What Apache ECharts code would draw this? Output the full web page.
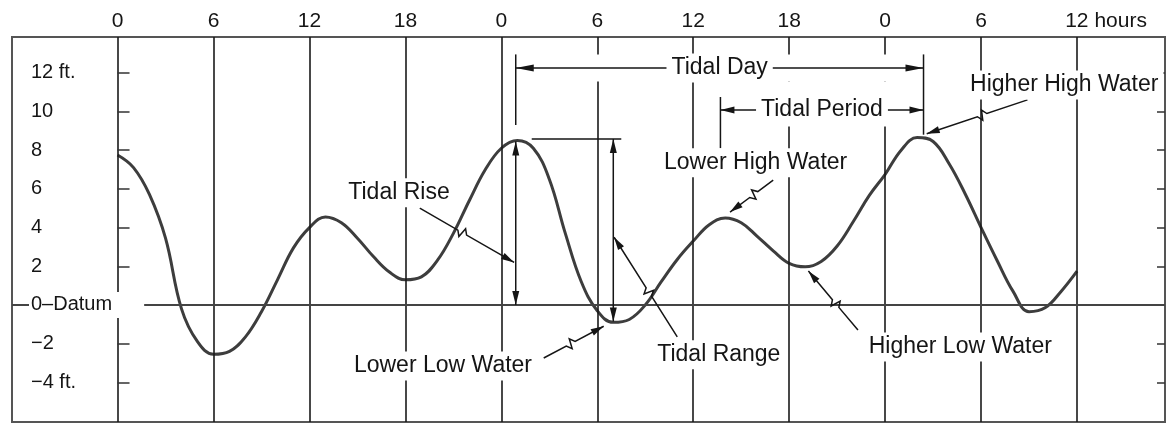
<!DOCTYPE html>
<html><head><meta charset="utf-8">
<script src="https://cdn.jsdelivr.net/npm/echarts@6/dist/echarts.min.js"></script>
<style>html,body{margin:0;padding:0;background:#fff}#main{width:1167px;height:425px}</style>
</head><body><div id="main"></div>
<script>
// ---- data ----
const hours = [0,1,2,3,4,5,6,7,8,9,10,11,12,13,14,15,16,17,18,19,20,21,22,23,24,25,26,27,28,29,30,31,32,33,34,35,36,37,38,39,40,41,42,43,44,45,46,47,48,49,50,51,52,53,54,55,56,57,58,59,60];
const heightFt = [7.75,7.1,5.7,3.45,-0.2,-1.9,-2.55,-2.4,-1.65,-0.35,1.3,2.95,4.0,4.55,4.25,3.45,2.5,1.7,1.3,1.45,2.3,3.7,5.4,7.0,8.1,8.5,8.1,6.5,3.7,1.2,-0.3,-0.9,-0.75,0.0,1.2,2.35,3.3,4.15,4.5,4.25,3.55,2.8,2.15,1.97,2.25,3.05,4.3,5.65,6.75,8.0,8.65,8.45,7.3,5.75,4.0,2.3,0.7,-0.35,-0.15,0.7,1.75];
const hourTicks = [0,6,12,18,24,30,36,42,48,54,60];
const hourLabels = ['0','6','12','18','0','6','12','18','0','6','12'];
const ftTicks = [-4,-2,0,2,4,6,8,10,12];
const ftLabels = ['\u22124 ft.','\u22122','0\u2013Datum','2','4','6','8','10','12 ft.'];

// annotation anchors (hours, feet)
const tidalDay = {from:24.9, to:50.4, at:12.25, top:12.95, leftBottom:9.3, rightBottom:8.8, text:'Tidal Day'};
const tidalPeriod = {from:37.7, to:50.4, at:10.08, top:10.75, leftBottom:8.1, text:'Tidal Period'};
const tidalRise = {at:24.9, low:0, high:8.45};
const tidalRange = {at:31.0, low:-0.85, high:8.58, refFrom:25.9};
const callouts = [
  {text:'Tidal Rise',        pos:[17.6, 5.8],   from:[18.9, 5.0],   to:[24.8, 2.2]},
  {text:'Lower High Water',  pos:[39.9, 7.35],  from:[41.0, 6.45],  to:[38.3, 4.8]},
  {text:'Higher High Water', pos:[59.2, 11.37], from:[56.9, 10.6],  to:[50.6, 8.85]},
  {text:'Tidal Range',       pos:[37.6, -2.58], from:[35.0, -1.65], to:[31.05, 3.5]},
  {text:'Lower Low Water',   pos:[20.35, -3.15],from:[26.65, -2.74],to:[30.4, -1.1]},
  {text:'Higher Low Water',  pos:[52.7, -2.17], from:[46.3, -1.3],  to:[43.2, 1.75]}
];

const FONT = "'Liberation Sans', Arial, sans-serif";
const INK = '#151515';
const chart = echarts.init(document.getElementById('main'), null, {renderer:'canvas'});

chart.setOption({
  animation:false,
  backgroundColor:'#fff',
  grid:{left:12, right:2, top:37, bottom:3, show:true, borderColor:'#555', borderWidth:2},
  xAxis:{type:'value', min:-6.6, max:65.5, position:'top',
    axisLine:{show:false}, axisTick:{show:false}, splitLine:{show:false},
    axisLabel:{customValues:hourTicks, margin:5, fontSize:21, fontFamily:FONT, color:INK,
      formatter:function(v){
        const i = hourTicks.indexOf(v);
        if (i === hourTicks.length-1) return '{p| }' + hourLabels[i] + '{u| hours}';
        return hourLabels[i];
      },
      rich:{p:{width:58, fontSize:21}, u:{fontSize:21, fontFamily:FONT, color:INK}}
    }},
  yAxis:[
    {type:'value', min:-6.05, max:13.85, position:'left', z:10,
      axisLine:{show:false}, splitLine:{show:false},
      axisTick:{show:true, inside:true, length:12, customValues:ftTicks, lineStyle:{color:'#333', width:1.5}},
      axisLabel:{inside:true, customValues:ftTicks, margin:17, fontSize:20, fontFamily:FONT, color:INK,
        backgroundColor:'#fff', padding:[3,8,3,2],
        formatter:function(v){
          const t = ftLabels[ftTicks.indexOf(v)];
          return v === 0 ? '{d|' + t + '}' : t;
        },
        rich:{d:{fontSize:20, fontFamily:FONT, color:INK, padding:[0,24,0,0]}}}},
    {type:'value', min:-6.05, max:13.85, position:'right',
      axisLine:{show:false}, splitLine:{show:false}, axisLabel:{show:false},
      axisTick:{show:true, inside:true, length:8, customValues:ftTicks, lineStyle:{color:'#333', width:1.5}}}
  ],
  series:[
    {type:'line', data:[], z:1, silent:true,
      markLine:{silent:true, symbol:'none', label:{show:false},
        lineStyle:{color:'#1a1a1a', width:1.6, type:'solid'},
        data: hourTicks.map(h => ({xAxis:h})).concat([{yAxis:0, lineStyle:{color:'#444', width:2, type:'solid'}}])}},
    {type:'line', data: hours.map((h,i)=>[h, heightFt[i]]), smooth:0.4, symbol:'none', z:3,
      lineStyle:{color:'#3d3d3d', width:3}}
  ]
});

function P(h, f){ return chart.convertToPixel({seriesIndex:1}, [h, f]); }
const els = [];
function line(a, b, w){ els.push({type:'line', z:60, shape:{x1:a[0],y1:a[1],x2:b[0],y2:b[1]}, style:{stroke:INK, lineWidth:w||1.5}}); }
function head(tip, from, L, W){
  const dx=tip[0]-from[0], dy=tip[1]-from[1], len=Math.hypot(dx,dy)||1;
  const ux=dx/len, uy=dy/len, nx=-uy, ny=ux;
  els.push({type:'polygon', z:61, shape:{points:[tip,[tip[0]-L*ux+W*nx, tip[1]-L*uy+W*ny],[tip[0]-L*ux-W*nx, tip[1]-L*uy-W*ny]]}, style:{fill:INK}});
}
function label(p, t){
  els.push({type:'text', z:70, x:p[0], y:p[1], style:{text:t, fontSize:23, fontFamily:FONT, fill:INK,
    align:'center', verticalAlign:'middle', backgroundColor:'#fff', padding:[3,5]}});
}
function band(a, b){
  els.push({type:'rect', z:50, shape:{x:Math.min(a[0],b[0]), y:Math.min(a[1],b[1]), width:Math.abs(b[0]-a[0]), height:Math.abs(b[1]-a[1])}, style:{fill:'#fff'}});
}
function leader(a, b){
  const dx=b[0]-a[0], dy=b[1]-a[1], len=Math.hypot(dx,dy);
  const ux=dx/len, uy=dy/len, nx=-uy, ny=ux;
  const mx=a[0]+dx*0.45, my=a[1]+dy*0.45;
  const pts=[a,[mx-5*ux,my-5*uy],[mx-1*ux+5*nx,my-1*uy+5*ny],[mx+1*ux-5*nx,my+1*uy-5*ny],[mx+5*ux,my+5*uy],b];
  els.push({type:'polyline', z:60, shape:{points:pts}, style:{stroke:INK, lineWidth:1.5, fill:null}});
  head(b, pts[4], 13, 3.5);
}

// tidal day
band(P(tidalDay.from, tidalDay.top), P(tidalDay.to, tidalPeriod.top + 0.8));
band(P(tidalPeriod.from, tidalPeriod.top + 0.8), P(tidalPeriod.to, tidalPeriod.at - 0.85));
let a = P(tidalDay.from, tidalDay.at), b = P(tidalDay.to, tidalDay.at);
line(a, b); head(a, b, 18, 3.5); head(b, a, 18, 3.5);
line(P(tidalDay.from, tidalDay.top), P(tidalDay.from, tidalDay.leftBottom));
line(P(tidalDay.to, tidalDay.top), P(tidalDay.to, tidalDay.rightBottom));
label(P((tidalDay.from+tidalDay.to)/2, tidalDay.at), tidalDay.text);
// tidal period
a = P(tidalPeriod.from, tidalPeriod.at); b = P(tidalPeriod.to, tidalPeriod.at);
line(a, b); head(a, b, 14, 3.5); head(b, a, 14, 3.5);
line(P(tidalPeriod.from, tidalPeriod.top), P(tidalPeriod.from, tidalPeriod.leftBottom));
label(P((tidalPeriod.from+tidalPeriod.to)/2, tidalPeriod.at), tidalPeriod.text);
// tidal rise
a = P(tidalRise.at, tidalRise.low); b = P(tidalRise.at, tidalRise.high);
line(a, b); head(a, b, 14, 3.5); head(b, a, 14, 3.5);
// tidal range
a = P(tidalRange.at, tidalRange.low); b = P(tidalRange.at, tidalRange.high);
line(a, b); head(a, b, 14, 3.5); head(b, a, 14, 3.5);
line(P(tidalRange.refFrom, tidalRange.high), P(tidalRange.at + 0.5, tidalRange.high));
// callouts
callouts.forEach(c => { leader(P(c.from[0], c.from[1]), P(c.to[0], c.to[1])); label(P(c.pos[0], c.pos[1]), c.text); });

chart.setOption({graphic:{elements:els}});
</script></body></html>
